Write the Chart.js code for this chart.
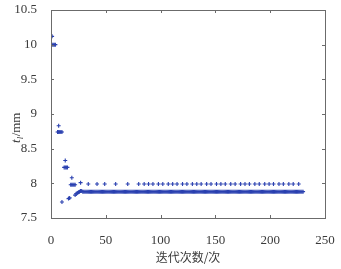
<!DOCTYPE html>
<html>
<head>
<meta charset="utf-8">
<script src="https://cdn.jsdelivr.net/npm/chart.js@4"></script>
<style>
  html, body { margin: 0; padding: 0; background: #fff; }
  #wrap { width: 341px; height: 269px; position: relative; }
</style>
</head>
<body>
<div id="wrap"><canvas id="c" width="341" height="269"></canvas></div>
<script>
// early iterations (x, y)
const earlyIter = [1, 1, 2, 3, 4, 6, 7, 8, 9, 10, 7, 10, 12, 13, 14, 15, 13, 16, 17, 18, 19, 20, 21, 22, 19, 22, 23, 24];
const earlyVal  = [10.12, 10, 10, 10, 10, 8.74, 8.74, 8.74, 8.74, 8.74, 8.83, 7.73, 8.23, 8.23, 8.23, 8.23, 8.33, 7.78, 7.79, 7.98, 7.98, 7.98, 7.98, 7.98, 8.08, 7.83, 7.85, 7.86];

// upper row of points
const upperIter = [27, 34, 42, 49, 59, 70, 80, 85, 89, 93, 98, 102, 107, 111, 115, 120, 124, 129, 133, 137, 142, 146, 151, 155, 159, 164, 168, 173, 177, 181, 186, 190, 195, 199, 203, 208, 212, 217, 221, 226];
const upperVal  = [8.01, 7.99, 7.99, 7.99, 7.99, 7.99, 7.99, 7.99, 7.99, 7.99, 7.99, 7.99, 7.99, 7.99, 7.99, 7.99, 7.99, 7.99, 7.99, 7.99, 7.99, 7.99, 7.99, 7.99, 7.99, 7.99, 7.99, 7.99, 7.99, 7.99, 7.99, 7.99, 7.99, 7.99, 7.99, 7.99, 7.99, 7.99, 7.99, 7.99];

// converged row, one point per iteration starting at plateauStart
const plateauStart = 25;
const plateauVal = [
  7.87, 7.88, 7.89, 7.89, 7.88, 7.88, 7.88, 7.88, 7.88, 7.88, 7.88, 7.88, 7.88, 7.88, 7.88, 7.88, 7.88, 7.88, 7.88, 7.88,
  7.88, 7.88, 7.88, 7.88, 7.88, 7.88, 7.88, 7.88, 7.88, 7.88, 7.88, 7.88, 7.88, 7.88, 7.88, 7.88, 7.88, 7.88, 7.88, 7.88,
  7.88, 7.88, 7.88, 7.88, 7.88, 7.88, 7.88, 7.88, 7.88, 7.88, 7.88, 7.88, 7.88, 7.88, 7.88, 7.88, 7.88, 7.88, 7.88, 7.88,
  7.88, 7.88, 7.88, 7.88, 7.88, 7.88, 7.88, 7.88, 7.88, 7.88, 7.88, 7.88, 7.88, 7.88, 7.88, 7.88, 7.88, 7.88, 7.88, 7.88,
  7.88, 7.88, 7.88, 7.88, 7.88, 7.88, 7.88, 7.88, 7.88, 7.88, 7.88, 7.88, 7.88, 7.88, 7.88, 7.88, 7.88, 7.88, 7.88, 7.88,
  7.88, 7.88, 7.88, 7.88, 7.88, 7.88, 7.88, 7.88, 7.88, 7.88, 7.88, 7.88, 7.88, 7.88, 7.88, 7.88, 7.88, 7.88, 7.88, 7.88,
  7.88, 7.88, 7.88, 7.88, 7.88, 7.88, 7.88, 7.88, 7.88, 7.88, 7.88, 7.88, 7.88, 7.88, 7.88, 7.88, 7.88, 7.88, 7.88, 7.88,
  7.88, 7.88, 7.88, 7.88, 7.88, 7.88, 7.88, 7.88, 7.88, 7.88, 7.88, 7.88, 7.88, 7.88, 7.88, 7.88, 7.88, 7.88, 7.88, 7.88,
  7.88, 7.88, 7.88, 7.88, 7.88, 7.88, 7.88, 7.88, 7.88, 7.88, 7.88, 7.88, 7.88, 7.88, 7.88, 7.88, 7.88, 7.88, 7.88, 7.88,
  7.88, 7.88, 7.88, 7.88, 7.88, 7.88, 7.88, 7.88, 7.88, 7.88, 7.88, 7.88, 7.88, 7.88, 7.88, 7.88, 7.88, 7.88, 7.88, 7.88,
  7.88, 7.88, 7.88, 7.88, 7.88, 7.88
];

const xTicks = [0, 50, 100, 150, 200, 250];
const yTicks = [7.5, 8, 8.5, 9, 9.5, 10, 10.5];
const xTitle = '迭代次数/次';

const pts = [];
earlyIter.forEach((x, i) => pts.push({ x, y: earlyVal[i] }));
upperIter.forEach((x, i) => pts.push({ x, y: upperVal[i] }));
plateauVal.forEach((y, i) => pts.push({ x: plateauStart + i, y }));

const AXIS = '#6b6b6b';
const TXT = '#3a3a3a';

// frame with inward ticks on all four sides + y title with subscript
const framePlugin = {
  id: 'frame',
  afterDraw(chart) {
    const { ctx, chartArea: a, scales: { x, y } } = chart;
    ctx.save();
    ctx.strokeStyle = AXIS;
    ctx.lineWidth = 1;
    ctx.strokeRect(a.left + 0.5, a.top + 0.5, a.right - a.left, a.bottom - a.top);
    ctx.beginPath();
    xTicks.forEach(v => {
      const px = Math.round(x.getPixelForValue(v)) + 0.5;
      ctx.moveTo(px, a.bottom); ctx.lineTo(px, a.bottom - 3);
      ctx.moveTo(px, a.top); ctx.lineTo(px, a.top + 3);
    });
    yTicks.forEach(v => {
      const py = Math.round(y.getPixelForValue(v)) + 0.5;
      ctx.moveTo(a.left, py); ctx.lineTo(a.left + 3, py);
      ctx.moveTo(a.right, py); ctx.lineTo(a.right - 3, py);
    });
    ctx.stroke();

    // y title: t_l/mm
    ctx.translate(17, 128);
    ctx.rotate(-Math.PI / 2);
    ctx.fillStyle = TXT;
    ctx.textBaseline = 'middle';
    ctx.font = 'italic 13px "Liberation Serif"';
    const w1 = ctx.measureText('t').width;
    const sub = 'l';
    ctx.font = 'italic 9px "Liberation Serif"';
    const w2 = ctx.measureText(sub).width;
    ctx.font = '13px "Liberation Serif"';
    const w3 = ctx.measureText('/mm').width;
    let sx = -(w1 + w2 + w3) / 2;
    ctx.font = 'italic 13px "Liberation Serif"';
    ctx.fillText('t', sx, 0); sx += w1;
    ctx.font = 'italic 9px "Liberation Serif"';
    ctx.fillText(sub, sx, 4); sx += w2 + 0.5;
    ctx.font = '13px "Liberation Serif"';
    ctx.fillText('/mm', sx, 0);
    ctx.restore();
  }
};

new Chart(document.getElementById('c'), {
  type: 'scatter',
  data: {
    datasets: [{
      data: pts,
      pointStyle: 'cross',
      pointRadius: 2,
      pointBorderWidth: 1.1,
      borderColor: '#2a40b0',
      backgroundColor: '#2a40b0',
      pointHoverRadius: 2
    }]
  },
  options: {
    responsive: false,
    animation: false,
    layout: { padding: { left: 0, top: 10, right: 16, bottom: 0 } },
    plugins: { legend: { display: false }, tooltip: { enabled: false } },
    scales: {
      x: {
        type: 'linear', min: 0, max: 250,
        afterFit: s => { s.height = 51; s.paddingLeft = 0; s.paddingRight = 0; },
        afterBuildTicks: s => { s.ticks = xTicks.map(v => ({ value: v })); },
        grid: { display: false },
        border: { display: false },
        ticks: { color: TXT, padding: 7, maxRotation: 0, font: { family: '"Liberation Serif"', size: 13 } },
        title: { display: true, text: xTitle, color: TXT, padding: { top: 2 }, font: { family: '"Noto Sans CJK SC"', size: 12 } }
      },
      y: {
        min: 7.5, max: 10.5,
        afterFit: s => { s.width = 51; s.paddingTop = 0; s.paddingBottom = 0; },
        afterBuildTicks: s => { s.ticks = yTicks.map(v => ({ value: v })); },
        grid: { display: false },
        border: { display: false },
        ticks: { color: TXT, padding: 6, callback: v => String(v), font: { family: '"Liberation Serif"', size: 13 } }
      }
    }
  },
  plugins: [framePlugin]
});
</script>
</body>
</html>
